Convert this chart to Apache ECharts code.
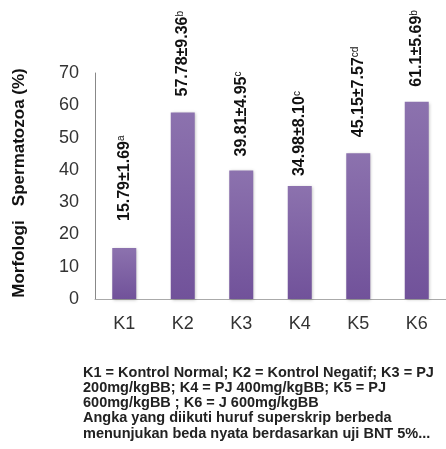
<!DOCTYPE html>
<html>
<head>
<meta charset="utf-8">
<script src="https://cdn.jsdelivr.net/npm/echarts@6/dist/echarts.min.js"></script>
<style>
html,body{margin:0;padding:0;background:#fff;}
#c{width:446px;height:449px;}
</style>
</head>
<body>
<div id="c"></div>
<script>
const categories = ['K1', 'K2', 'K3', 'K4', 'K5', 'K6'];
const means = [15.79, 57.78, 39.81, 34.98, 45.15, 61.1];
const sds = ['1.69', '9.36', '4.95', '8.10', '7.57', '5.69'];
const letters = ['a', 'b', 'c', 'c', 'cd', 'b'];
const yTicks = [0, 10, 20, 30, 40, 50, 60, 70];
const footnote = [
  'K1 = Kontrol Normal; K2 = Kontrol Negatif; K3 = PJ',
  '200mg/kgBB; K4 = PJ 400mg/kgBB; K5 = PJ',
  '600mg/kgBB ; K6 = J 600mg/kgBB',
  'Angka yang diikuti huruf superskrip berbeda',
  'menunjukan beda nyata berdasarkan uji BNT 5%...'
];

const labelGaps = [27, 16, 14, 10, 16, 15];

const chart = echarts.init(document.getElementById('c'));
const data = means.map((v, i) => ({
  value: v,
  label: {
    distance: labelGaps[i],
    formatter: () => '{m|' + v + '±' + sds[i] + '}{s|' + letters[i] + '}'
  }
}));

chart.setOption({
  animation: false,
  grid: { left: 95, top: 73, bottom: 150, right: -5, containLabel: false },
  xAxis: {
    type: 'category',
    data: categories,
    axisLine: { lineStyle: { color: '#aaa', width: 1 } },
    axisTick: { show: false },
    axisLabel: { color: '#333', fontSize: 18, fontFamily: 'Liberation Sans, Arial', margin: 16 }
  },
  yAxis: {
    type: 'value',
    min: 0, max: 70, interval: 10,
    name: 'Morfologi   Spermatozoa (%)',
    nameLocation: 'middle',
    nameGap: 67,
    nameTextStyle: { fontSize: 17, fontWeight: 'bold', color: '#111', fontFamily: 'Liberation Sans, Arial', padding: [0, 0, 0, 6] },
    axisLine: { show: true, lineStyle: { color: '#888', width: 1 } },
    axisTick: { show: false },
    splitLine: { show: false },
    axisLabel: {
      color: '#333', fontSize: 18, fontFamily: 'Liberation Sans, Arial', margin: 16,
      formatter: v => yTicks.includes(v) ? String(v) : ''
    }
  },
  series: [{
    type: 'bar',
    data: data,
    barWidth: 24,
    itemStyle: {
      color: new echarts.graphic.LinearGradient(0, 0, 0, 1, [
        { offset: 0, color: '#8c72ae' },
        { offset: 1, color: '#71529a' }
      ]),
      shadowColor: 'rgba(0,0,0,0.25)',
      shadowBlur: 3,
      shadowOffsetX: 1,
      shadowOffsetY: 1
    },
    label: {
      show: true,
      position: 'top',
      rotate: 90,
      align: 'left',
      verticalAlign: 'middle',
      fontFamily: 'Liberation Sans, Arial',
      rich: {
        m: { fontSize: 16, fontWeight: 'bold', color: '#111', fontFamily: 'Liberation Sans, Arial' },
        s: { fontSize: 10, color: '#111', verticalAlign: 'top', fontFamily: 'Liberation Sans, Arial', padding: [0, 0, 6, 0] }
      }
    }
  }],
  graphic: footnote.map((t, i) => ({
    type: 'text',
    left: 83,
    top: 365 + i * 15.3,
    style: { text: t, font: 'bold 14.5px "Liberation Sans", Arial', fill: '#222' }
  }))
});
</script>
</body>
</html>
